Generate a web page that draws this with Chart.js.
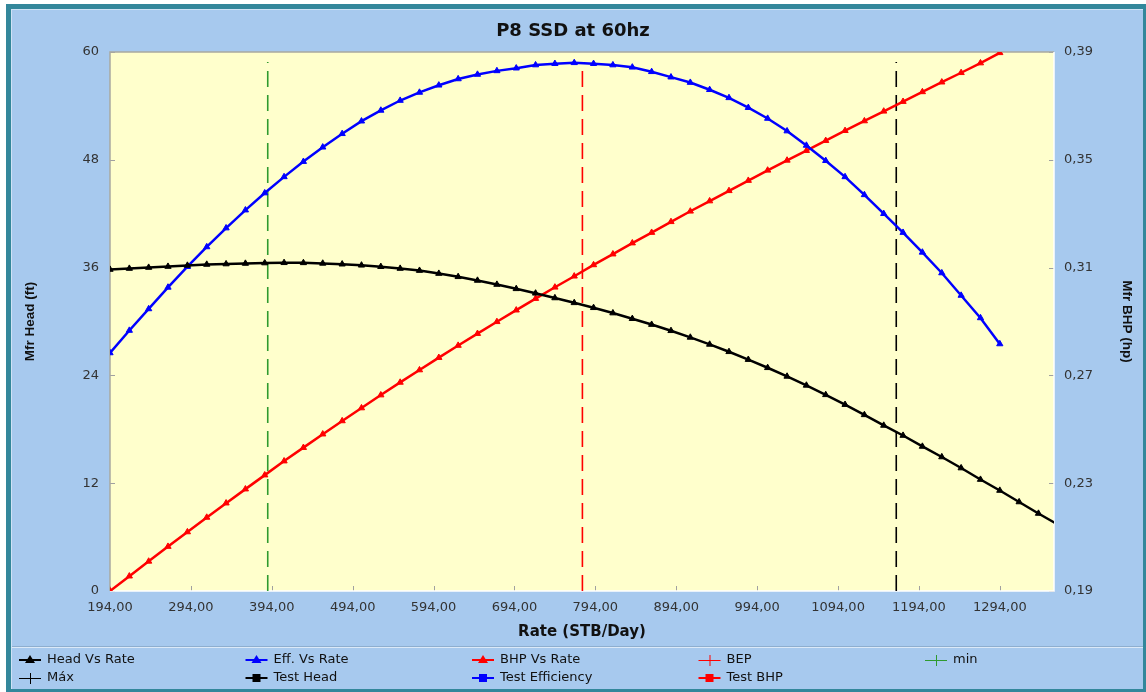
<!DOCTYPE html>
<html>
<head>
<meta charset="utf-8">
<script src="https://cdn.jsdelivr.net/npm/chart.js@4/dist/chart.umd.min.js"></script>
<style>
  html, body { margin: 0; padding: 0; background: #ffffff; }
  canvas { display: block; }
</style>
</head>
<body>
<canvas id="pumpChart" width="1146" height="692"></canvas>
<script>
// Pump performance curve: P8 SSD at 60 Hz

// Flow rate (STB/Day) at each curve point
const rates = [194.0, 217.9, 241.8, 265.7, 289.7, 313.6, 337.5, 361.4, 385.3, 409.2,
  433.1, 457.0, 481.0, 504.9, 528.8, 552.7, 576.6, 600.5, 624.4, 648.3,
  672.3, 696.2, 720.1, 744.0, 767.9, 791.8, 815.7, 839.7, 863.6, 887.5,
  911.4, 935.3, 959.2, 983.1, 1007.0, 1031.0, 1054.9, 1078.8, 1102.7, 1126.6,
  1150.5, 1174.4, 1198.3, 1222.3, 1246.2, 1270.1, 1294.0, 1317.9, 1341.8, 1365.7];

// Manufacturer head (ft)
const headFt = [35.79, 35.90, 36.01, 36.12, 36.24, 36.35, 36.40, 36.46, 36.51, 36.54,
  36.53, 36.47, 36.38, 36.26, 36.10, 35.90, 35.67, 35.34, 34.98, 34.57,
  34.12, 33.64, 33.14, 32.62, 32.08, 31.53, 30.94, 30.31, 29.66, 28.97,
  28.23, 27.45, 26.63, 25.76, 24.85, 23.89, 22.89, 21.84, 20.75, 19.61,
  18.43, 17.31, 16.09, 14.92, 13.69, 12.41, 11.19, 9.91, 8.63, 7.40];

// Pump efficiency (%), same rates up to 1294
const effPct = [26.5, 29.0, 31.4, 33.8, 36.1, 38.3, 40.4, 42.4, 44.3, 46.1,
  47.8, 49.4, 50.9, 52.3, 53.5, 54.6, 55.5, 56.3, 57.0, 57.5,
  57.9, 58.2, 58.55, 58.7, 58.8, 58.7, 58.55, 58.3, 57.8, 57.2,
  56.6, 55.8, 54.9, 53.8, 52.6, 51.2, 49.6, 47.9, 46.1, 44.1,
  42.0, 39.9, 37.7, 35.4, 32.9, 30.4, 27.5];

// Brake horsepower (hp), same rates up to 1294
const bhpHp = [0.1900, 0.1955, 0.2010, 0.2065, 0.2119, 0.2173, 0.2226, 0.2278, 0.2330, 0.2382,
  0.2432, 0.2482, 0.2531, 0.2579, 0.2627, 0.2674, 0.2720, 0.2766, 0.2811, 0.2855,
  0.2899, 0.2942, 0.2985, 0.3027, 0.3068, 0.3110, 0.3150, 0.3191, 0.3230, 0.3270,
  0.3309, 0.3347, 0.3385, 0.3423, 0.3461, 0.3498, 0.3534, 0.3571, 0.3608, 0.3644,
  0.3680, 0.3716, 0.3752, 0.3788, 0.3823, 0.3859, 0.3897];

// Operating range markers (STB/Day) and their height on the head axis
const minRate = 389;
const bepRate = 778;
const maxRate = 1166;
const markerTop = 58.9;

// Axis ticks
const rateTicks = [194, 294, 394, 494, 594, 694, 794, 894, 994, 1094, 1194, 1294];
const headTicks = [0, 12, 24, 36, 48, 60];
const bhpTicks = [0.19, 0.23, 0.27, 0.31, 0.35, 0.39];

const FONT = "'DejaVu Sans', Verdana, sans-serif";
const FONT_NARROW = "'Liberation Sans', Arial, sans-serif";
Chart.defaults.font.family = FONT;

const pts = (xs, ys) => ys.map((y, i) => ({ x: xs[i], y }));
const vline = (x) => [{ x, y: 0 }, { x, y: markerTop }];
const comma = (v, d) => Number(v).toFixed(d).replace('.', ',');

function curve(label, color, data, axis) {
  return {
    label, data, yAxisID: axis,
    borderColor: color, backgroundColor: color,
    borderWidth: 2.5, pointStyle: 'triangle', pointRadius: 3.6,
    pointBorderWidth: 1, tension: 0, legendKind: 'curve'
  };
}
function marker(label, color, x) {
  return {
    label, data: vline(x), yAxisID: 'y',
    borderColor: color, backgroundColor: color,
    borderWidth: 1.6, borderDash: [16, 8], pointRadius: 0, legendKind: 'cross'
  };
}
function testSeries(label, color) {
  return {
    label, data: [], yAxisID: 'y',
    borderColor: color, backgroundColor: color, pointStyle: 'rect', legendKind: 'square'
  };
}

const datasets = [
  curve('Head Vs Rate', '#000000', pts(rates, headFt), 'y'),
  curve('Eff. Vs Rate', '#0000ff', pts(rates, effPct), 'y'),
  curve('BHP Vs Rate', '#ff0000', pts(rates, bhpHp), 'y1'),
  marker('BEP', '#ff0000', bepRate),
  marker('min', '#2f9a2f', minRate),
  marker('Máx', '#000000', maxRate),
  testSeries('Test Head', '#000000'),
  testSeries('Test Efficiency', '#0000ff'),
  testSeries('Test BHP', '#ff0000')
];

// Window frame, plot background, inward tick marks and the two-row legend
const framePlugin = {
  id: 'frame',
  beforeDraw(chart) {
    const { ctx, chartArea: a, width, height } = chart;
    ctx.save();
    ctx.fillStyle = '#ffffff';
    ctx.fillRect(0, 0, width, height);
    ctx.fillStyle = '#33879b';
    ctx.fillRect(6, 4, width - 6, height - 4);
    ctx.fillStyle = '#cfe2f5';
    ctx.fillRect(11, 9, width - 14, height - 12);
    ctx.fillStyle = '#a7c9ee';
    ctx.fillRect(12, 10, width - 15, height - 13);
    // legend separator
    ctx.fillStyle = '#8eaecf';
    ctx.fillRect(12, 646, width - 15, 1);
    ctx.fillStyle = '#dbe9f8';
    ctx.fillRect(12, 647, width - 15, 1);
    // plot background
    ctx.fillStyle = '#ffffcc';
    ctx.fillRect(a.left, a.top, a.right - a.left, a.bottom - a.top);
    ctx.restore();
  },
  beforeDatasetsDraw(chart) {
    const { ctx, chartArea: a, scales } = chart;
    ctx.save();
    ctx.strokeStyle = '#a0a0a0';
    ctx.lineWidth = 1;
    ctx.beginPath();
    rateTicks.forEach(v => {
      const x = Math.round(scales.x.getPixelForValue(v)) + 0.5;
      ctx.moveTo(x, a.bottom); ctx.lineTo(x, a.bottom - 5);
    });
    bhpTicks.forEach(v => {
      const y = Math.round(scales.y1.getPixelForValue(v)) + 0.5;
      ctx.moveTo(a.right, y); ctx.lineTo(a.right - 5, y);
    });
    headTicks.forEach(v => {
      const y = Math.round(scales.y.getPixelForValue(v)) + 0.5;
      ctx.moveTo(a.left, y); ctx.lineTo(a.left + 5, y);
    });
    ctx.stroke();
    // sunken border of the plot area
    ctx.lineWidth = 1.5;
    ctx.strokeStyle = '#a9a9a0';
    ctx.beginPath();
    ctx.moveTo(a.left, a.bottom); ctx.lineTo(a.left, a.top); ctx.lineTo(a.right, a.top);
    ctx.stroke();
    ctx.strokeStyle = '#ffffff';
    ctx.beginPath();
    ctx.moveTo(a.right, a.top); ctx.lineTo(a.right, a.bottom); ctx.lineTo(a.left, a.bottom);
    ctx.stroke();
    ctx.restore();
  },
  afterDraw(chart) {
    const { ctx } = chart;
    ctx.save();
    ctx.font = '13px ' + FONT;
    ctx.textBaseline = 'middle';
    chart.data.datasets.forEach((ds, i) => {
      const col = i % 5, row = Math.floor(i / 5);
      const x0 = 19 + col * 226.5;
      const y = 660 + row * 18;
      const cx = x0 + 11;
      ctx.strokeStyle = ds.borderColor;
      ctx.fillStyle = ds.borderColor;
      ctx.beginPath();
      if (ds.legendKind === 'cross') {
        ctx.lineWidth = 1;
        ctx.moveTo(x0, y + 0.5); ctx.lineTo(x0 + 22, y + 0.5);
        ctx.moveTo(cx + 0.5, y - 5); ctx.lineTo(cx + 0.5, y + 6);
        ctx.stroke();
      } else {
        ctx.lineWidth = 2;
        ctx.moveTo(x0, y); ctx.lineTo(x0 + 22, y);
        ctx.stroke();
        ctx.beginPath();
        if (ds.legendKind === 'curve') {
          ctx.moveTo(cx, y - 5); ctx.lineTo(cx + 5, y + 3); ctx.lineTo(cx - 5, y + 3);
          ctx.closePath(); ctx.fill();
        } else {
          ctx.fillRect(cx - 4, y - 4, 8, 8);
        }
      }
      ctx.fillStyle = '#111111';
      ctx.fillText(ds.label, x0 + 28, y);
    });
    ctx.restore();
  }
};

new Chart(document.getElementById('pumpChart'), {
  type: 'line',
  data: { datasets },
  plugins: [framePlugin],
  options: {
    responsive: false,
    devicePixelRatio: 1,
    animation: false,
    layout: { padding: 0 },
    plugins: {
      legend: { display: false },
      tooltip: { enabled: false },
      title: {
        display: true, text: 'P8 SSD at 60hz', color: '#111111',
        font: { size: 18, weight: 'bold' }, padding: { top: 21, bottom: 9.4 }
      }
    },
    scales: {
      x: {
        type: 'linear', position: 'bottom', min: 194, max: 1361,
        grid: { display: false, drawTicks: false }, border: { display: false },
        afterBuildTicks: s => { s.ticks = rateTicks.map(v => ({ value: v })); },
        afterFit: s => { s.height = 101; },
        ticks: { padding: 9, color: '#333333', font: { size: 13 }, maxRotation: 0, autoSkip: false,
                 callback: v => comma(v, 2) },
        title: { display: true, text: 'Rate (STB/Day)', color: '#111111',
                 font: { size: 15, weight: 'bold' }, padding: { top: 0, bottom: 51 } }
      },
      y: {
        type: 'linear', position: 'left', min: 0, max: 60,
        grid: { display: false, drawTicks: false }, border: { display: false },
        afterBuildTicks: s => { s.ticks = headTicks.map(v => ({ value: v })); },
        afterFit: s => { s.width = 110; },
        ticks: { padding: 11, color: '#333333', font: { size: 13 } },
        title: { display: true, text: 'Mfr Head (ft)', color: '#111111',
                 font: { family: FONT_NARROW, size: 13.5, weight: 'bold' }, padding: { top: 22, bottom: 0 } }
      },
      y1: {
        type: 'linear', position: 'right', min: 0.19, max: 0.39,
        grid: { display: false, drawTicks: false }, border: { display: false },
        afterBuildTicks: s => { s.ticks = bhpTicks.map(v => ({ value: v })); },
        afterFit: s => { s.width = 92; },
        ticks: { padding: 10, color: '#333333', font: { size: 13 }, callback: v => comma(v, 2) },
        title: { display: true, text: 'Mfr BHP (hp)', color: '#111111',
                 font: { family: FONT_NARROW, size: 13.5, weight: 'bold' }, padding: { top: 11, bottom: 0 } }
      }
    }
  }
});
</script>
</body>
</html>
